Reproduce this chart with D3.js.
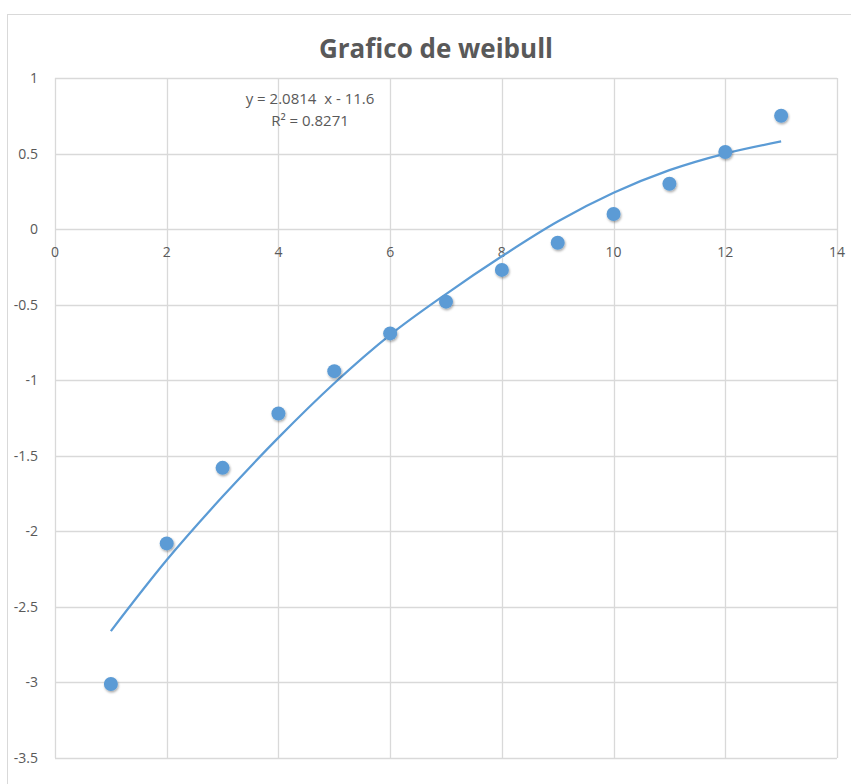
<!DOCTYPE html>
<html>
<head>
<meta charset="utf-8">
<script src="https://cdn.jsdelivr.net/npm/d3@7"></script>
<style>
  body { margin: 0; background: #fff; }
  text { font-family: "Open Sans", "Noto Sans", sans-serif; fill: #595959; }
</style>
</head>
<body>
<script>
var width = 851;
var height = 784;

// observed points
var xValues = [1, 2, 3, 4, 5, 6, 7, 8, 9, 10, 11, 12, 13];
var yValues = [-3.01, -2.08, -1.58, -1.22, -0.94, -0.69, -0.48, -0.27, -0.09, 0.10, 0.30, 0.51, 0.75];

// trendline
var trendX = [1, 2, 3, 4, 5, 6, 7, 8, 9, 10, 11, 12, 13];
var trendY = [-2.66, -2.19, -1.77, -1.38, -1.02, -0.70, -0.43, -0.18, 0.05, 0.24, 0.39, 0.50, 0.58];

var xTicks = [0, 2, 4, 6, 8, 10, 12, 14];
var yTicks = [1, 0.5, 0, -0.5, -1, -1.5, -2, -2.5, -3, -3.5];

var title = "Grafico de weibull";
var eqLines = ["y = 2.0814  x - 11.6", "R² = 0.8271"];

var svg = d3.select("body")
            .append("svg")
            .attr("width", width)
            .attr("height", height);

// chart area border
svg.append("rect")
   .attr("x", 7.5).attr("y", 14.5)
   .attr("width", 900).attr("height", 900)
   .attr("fill", "#fff")
   .attr("stroke", "#d9d9d9")
   .attr("stroke-width", 1);

var x = d3.scaleLinear().domain([0, 14]).range([55, 837]);
var y = d3.scaleLinear().domain([-3.5, 1]).range([758, 78]);

// gridlines
svg.append("g").selectAll("line")
   .data(xTicks)
   .enter()
   .append("line")
   .attr("x1", function(d) { return Math.round(x(d)) + 0.5; })
   .attr("x2", function(d) { return Math.round(x(d)) + 0.5; })
   .attr("y1", y(1)).attr("y2", y(-3.5))
   .attr("stroke", "#d9d9d9")
   .attr("stroke-width", 1.3);

svg.append("g").selectAll("line")
   .data(yTicks)
   .enter()
   .append("line")
   .attr("y1", function(d) { return Math.round(y(d)) + 0.5; })
   .attr("y2", function(d) { return Math.round(y(d)) + 0.5; })
   .attr("x1", x(0)).attr("x2", x(14))
   .attr("stroke", "#d9d9d9")
   .attr("stroke-width", 1.3);

// axis labels
svg.append("g").selectAll("text")
   .data(xTicks)
   .enter()
   .append("text")
   .attr("x", function(d) { return x(d); })
   .attr("y", y(0) + 28)
   .attr("text-anchor", "middle")
   .style("font-size", "14px")
   .text(function(d) { return d; });

svg.append("g").selectAll("text")
   .data(yTicks)
   .enter()
   .append("text")
   .attr("x", 38)
   .attr("y", function(d) { return y(d) + 5; })
   .attr("text-anchor", "end")
   .style("font-size", "14px")
   .text(function(d) { return d; });

// trendline
var trend = trendX.map(function(d, i) { return [d, trendY[i]]; });
var line = d3.line()
             .x(function(d) { return x(d[0]); })
             .y(function(d) { return y(d[1]); })
             .curve(d3.curveMonotoneX);

svg.append("path")
   .datum(trend)
   .attr("d", line)
   .attr("fill", "none")
   .attr("stroke", "#5b9bd5")
   .attr("stroke-width", 2.25);

// shadow for markers
var defs = svg.append("defs");
var f = defs.append("filter").attr("id", "shadow")
            .attr("x", "-50%").attr("y", "-50%")
            .attr("width", "200%").attr("height", "200%");
f.append("feDropShadow")
 .attr("dx", 0.8).attr("dy", 1.5)
 .attr("stdDeviation", 1.3)
 .attr("flood-color", "#000")
 .attr("flood-opacity", 0.35);

svg.append("g").selectAll("circle")
   .data(xValues)
   .enter()
   .append("circle")
   .attr("cx", function(d) { return x(d); })
   .attr("cy", function(d, i) { return y(yValues[i]); })
   .attr("r", 7)
   .attr("fill", "#5b9bd5")
   .attr("filter", "url(#shadow)");

// title
svg.append("text")
   .attr("x", 436)
   .attr("y", 58)
   .attr("text-anchor", "middle")
   .style("font-size", "26px")
   .style("font-weight", "bold")
   .text(title);

// trendline equation
svg.append("g").selectAll("text")
   .data(eqLines)
   .enter()
   .append("text")
   .attr("x", 310)
   .attr("y", function(d, i) { return 104 + i * 22; })
   .attr("text-anchor", "middle")
   .style("font-size", "15px")
   .style("white-space", "pre")
   .text(function(d) { return d; });
</script>
</body>
</html>
